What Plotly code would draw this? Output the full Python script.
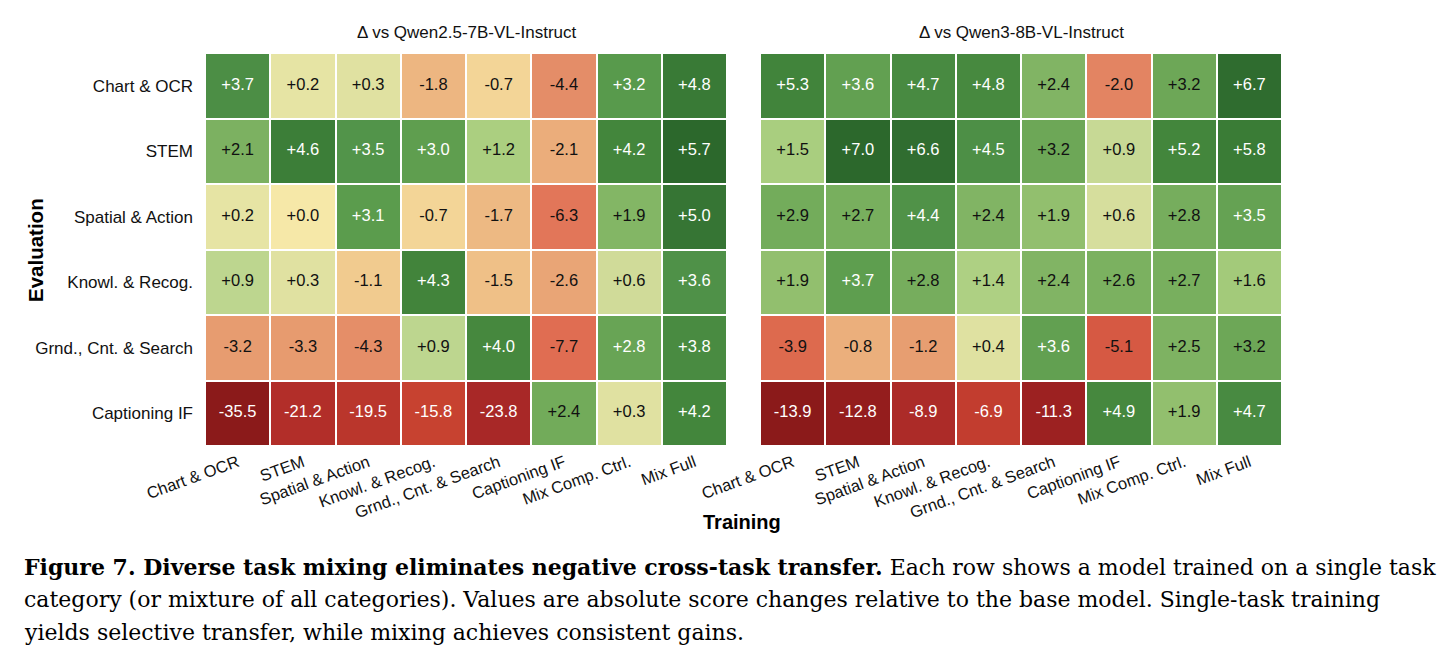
import plotly.graph_objects as go
from plotly.subplots import make_subplots

# ---------------- data ----------------
eval_rows = ["Chart & OCR", "STEM", "Spatial & Action", "Knowl. & Recog.",
             "Grnd., Cnt. & Search", "Captioning IF"]
train_cols = ["Chart & OCR", "STEM", "Spatial & Action", "Knowl. & Recog.",
              "Grnd., Cnt. & Search", "Captioning IF", "Mix Comp. Ctrl.", "Mix Full"]

qwen25_delta = [
    [3.7, 0.2, 0.3, -1.8, -0.7, -4.4, 3.2, 4.8],
    [2.1, 4.6, 3.5, 3.0, 1.2, -2.1, 4.2, 5.7],
    [0.2, 0.0, 3.1, -0.7, -1.7, -6.3, 1.9, 5.0],
    [0.9, 0.3, -1.1, 4.3, -1.5, -2.6, 0.6, 3.6],
    [-3.2, -3.3, -4.3, 0.9, 4.0, -7.7, 2.8, 3.8],
    [-35.5, -21.2, -19.5, -15.8, -23.8, 2.4, 0.3, 4.2],
]
qwen3_delta = [
    [5.3, 3.6, 4.7, 4.8, 2.4, -2.0, 3.2, 6.7],
    [1.5, 7.0, 6.6, 4.5, 3.2, 0.9, 5.2, 5.8],
    [2.9, 2.7, 4.4, 2.4, 1.9, 0.6, 2.8, 3.5],
    [1.9, 3.7, 2.8, 1.4, 2.4, 2.6, 2.7, 1.6],
    [-3.9, -0.8, -1.2, 0.4, 3.6, -5.1, 2.5, 3.2],
    [-13.9, -12.8, -8.9, -6.9, -11.3, 4.9, 1.9, 4.7],
]
panel_titles = ["Δ vs Qwen2.5-7B-VL-Instruct", "Δ vs Qwen3-8B-VL-Instruct"]

# ---------------- style ----------------
NEG_STOPS = [(0.00, "#f6e8a8"), (0.02, "#f3d597"), (0.04, "#efc289"), (0.06, "#ebac7a"),
             (0.09, "#e79c70"), (0.13, "#e48a66"), (0.18, "#e27558"), (0.23, "#df6a50"),
             (0.28, "#dd6a4e"), (0.37, "#d65843"), (0.45, "#c6412f"), (0.50, "#c23d2f"),
             (0.60, "#b22e29"), (0.67, "#a82827"), (0.80, "#9d2222"), (0.92, "#941d1d"),
             (1.00, "#8b1a1a")]
POS_STOPS = [(0.00, "#f6e8a8"), (0.04, "#e4e3a3"), (0.09, "#d5dd9c"), (0.15, "#c0d791"),
             (0.21, "#abcf80"), (0.27, "#92bf6e"), (0.35, "#7fb363"), (0.42, "#72ab5a"),
             (0.49, "#68a455"), (0.54, "#5b9c4d"), (0.62, "#51934a"), (0.68, "#47893f"),
             (0.74, "#43863c"), (0.82, "#3b7d37"), (0.92, "#326f31"), (1.00, "#2c682c")]
FONT = "Liberation Sans, Arial, sans-serif"
SERIF = "DejaVu Serif, serif"
W, H = 1453, 662


def build_scale(zmin, zmax):
    p0 = -zmin / (zmax - zmin)
    stops = []
    for f, c in NEG_STOPS:
        stops.append((p0 * (1 - f), c))
    for f, c in POS_STOPS[1:]:
        stops.append((p0 + (1 - p0) * f, c))
    stops.sort(key=lambda s: s[0])
    stops[0] = (0.0, stops[0][1])
    stops[-1] = (1.0, stops[-1][1])
    return [[p, c] for p, c in stops]


def text_colour(v, zmin, zmax):
    if v >= 0:
        return "white" if v / zmax > 0.46 else "#111111"
    return "white" if v / zmin > 0.42 else "#111111"


fig = make_subplots(rows=1, cols=2, horizontal_spacing=0.02)

for k, z in enumerate([qwen25_delta, qwen3_delta]):
    flat = [v for r in z for v in r]
    zmin, zmax = min(flat), max(flat)
    fig.add_trace(go.Heatmap(z=z, x=train_cols, y=eval_rows,
                             colorscale=build_scale(zmin, zmax), zmin=zmin, zmax=zmax,
                             xgap=2, ygap=2, showscale=False, hoverinfo="skip"),
                  row=1, col=k + 1)
    xs, ys, ts, cs = [], [], [], []
    for i, rname in enumerate(eval_rows):
        for j, cname in enumerate(train_cols):
            v = z[i][j]
            xs.append(cname)
            ys.append(rname)
            ts.append(f"{v:+.1f}")
            cs.append(text_colour(v, zmin, zmax))
    fig.add_trace(go.Scatter(x=xs, y=ys, text=ts, mode="text",
                             textfont=dict(family=FONT, size=16.5, color=cs),
                             hoverinfo="skip", showlegend=False),
                  row=1, col=k + 1)

x_domains = [[205 / W, 727 / W], [760 / W, 1282 / W]]
y_domain = [1 - 446 / H, 1 - 53 / H]

for k in range(2):
    xa = "xaxis" if k == 0 else "xaxis2"
    ya = "yaxis" if k == 0 else "yaxis2"
    fig.layout[xa].update(domain=x_domains[k], tickangle=-20, showgrid=False, zeroline=False,
                          showline=False, ticks="", automargin=False,
                          tickfont=dict(family=FONT, size=16.5, color="#111"),
                          ticklabelstandoff=3)
    fig.layout[ya].update(domain=y_domain, autorange="reversed", showgrid=False, zeroline=False,
                          showline=False, ticks="", showticklabels=(k == 0), automargin=False,
                          tickfont=dict(family=FONT, size=17, color="#111"),
                          ticklabelstandoff=11)

annotations = []
for k in range(2):
    annotations.append(dict(text=panel_titles[k], x=sum(x_domains[k]) / 2, y=1 - 32 / H,
                            xref="paper", yref="paper", xanchor="center", yanchor="middle",
                            showarrow=False, font=dict(family=FONT, size=17, color="#111")))
annotations.append(dict(text="<b>Evaluation</b>", x=35 / W, y=1 - 250 / H, xref="paper",
                        yref="paper", xanchor="center", yanchor="middle", showarrow=False,
                        textangle=-90, font=dict(family=FONT, size=20.5, color="#000")))
annotations.append(dict(text="<b>Training</b>", x=742 / W, y=1 - 522 / H, xref="paper",
                        yref="paper", xanchor="center", yanchor="middle", showarrow=False,
                        font=dict(family=FONT, size=20, color="#000")))

caption_lines = [
    "<b>Figure 7. Diverse task mixing eliminates negative cross-task transfer.</b> Each row shows a model trained on a single task",
    "category (or mixture of all categories). Values are absolute score changes relative to the base model. Single-task training",
    "yields selective transfer, while mixing achieves consistent gains.",
]
for i, line in enumerate(caption_lines):
    annotations.append(dict(text=line, x=22 / W, y=1 - (567 + 32.5 * i) / H, xref="paper",
                            yref="paper", xanchor="left", yanchor="middle", showarrow=False,
                            align="left",
                            font=dict(family=SERIF, size=22, color="#000")))

fig.update_layout(width=W, height=H, margin=dict(l=0, r=0, t=0, b=0),
                  paper_bgcolor="white", plot_bgcolor="white",
                  annotations=annotations, showlegend=False)

fig.write_html("out.html")
